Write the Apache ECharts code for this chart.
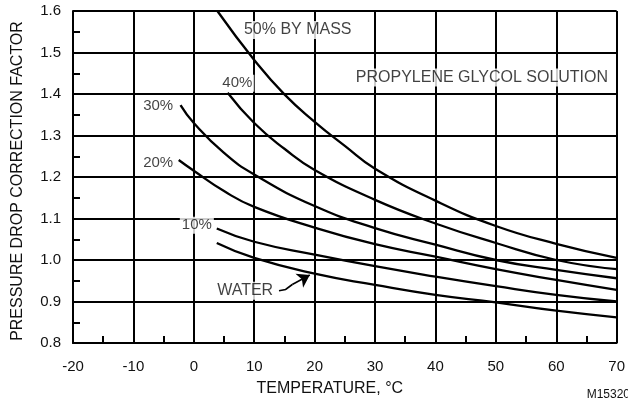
<!DOCTYPE html>
<html>
<head>
<meta charset="utf-8">
<script src="https://cdn.jsdelivr.net/npm/echarts@6/dist/echarts.min.js"></script>
<style>
  html, body { margin: 0; padding: 0; background: #fff; }
  #chart { width: 628px; height: 404px; }
</style>
</head>
<body>
<div id="chart"></div>
<script>
// temperature (°C) / correction factor
const waterX = [3.8, 10, 20, 30, 40, 50, 60, 70];
const waterY = [1.041, 1.005, 0.967, 0.940, 0.916, 0.898, 0.878, 0.862];
const pct10X = [3.8, 10, 20, 30, 40, 50, 60, 70];
const pct10Y = [1.076, 1.044, 1.013, 0.985, 0.960, 0.937, 0.916, 0.900];
const pct20X = [-2.5, 0, 5, 10, 20, 30, 40, 50, 60, 70];
const pct20Y = [1.241, 1.215, 1.166, 1.128, 1.078, 1.038, 1.008, 0.978, 0.952, 0.928];
const pct30X = [-2.2, 0, 5, 10, 20, 30, 40, 50, 60, 70];
const pct30Y = [1.373, 1.330, 1.258, 1.206, 1.130, 1.077, 1.037, 1.000, 0.976, 0.956];
const pct40X = [5.6, 10, 15, 20, 30, 40, 50, 60, 70];
const pct40Y = [1.403, 1.330, 1.268, 1.217, 1.145, 1.088, 1.041, 1.000, 0.978];
const pct50X = [3.9, 10, 15, 20, 25, 30, 40, 50, 60, 70];
const pct50Y = [1.600, 1.482, 1.399, 1.333, 1.275, 1.220, 1.143, 1.082, 1.039, 1.005];

const xTicks = [-20, -10, 0, 10, 20, 30, 40, 50, 60, 70];
const yTicks = [0.8, 0.9, 1.0, 1.1, 1.2, 1.3, 1.4, 1.5, 1.6];

// annotations (data coordinates of the text centres)
const noteText = ['50% BY MASS', '40%', '30%', '20%', '10%', 'WATER', 'PROPYLENE GLYCOL SOLUTION'];
const noteX = [17.2, 7.2, -5.9, -5.9, 0.5, 8.5, 47.7];
const noteY = [1.554, 1.426, 1.371, 1.233, 1.084, 0.926, 1.44];

// arrow from WATER label to the water curve
const arrowX = [14.1, 15.2, 16.3, 19.2];
const arrowY = [0.926, 0.929, 0.941, 0.964];

const FONT = '"Liberation Sans", Arial, sans-serif';
const pair = (xs, ys) => xs.map((x, i) => [x, ys[i]]);

function curve(name, xs, ys) {
    return {
        name: name,
        type: 'line',
        data: pair(xs, ys),
        smooth: 0.5,
        showSymbol: false,
        lineStyle: { color: '#000', width: 2.3 },
        z: 3,
    };
}

const axisCommon = {
    axisLine: { show: true, onZero: false, lineStyle: { color: '#000', width: 2 } },
    axisTick: { show: true, inside: true, length: 7, lineStyle: { color: '#000', width: 2 } },
    minorTick: { show: true, splitNumber: 2, length: 7, lineStyle: { color: '#000', width: 2 } },
    splitLine: { show: true, lineStyle: { color: '#000', width: 2 } },
};

const arrowTail = pair(arrowX, arrowY);
const arrowHead = arrowTail.slice(-2);

// the short "NN%" tags are set a touch smaller than the longer notes
const notes = pair(noteX, noteY).map((v, i) => ({
    value: v,
    label: { fontSize: noteText[i].length <= 3 ? 15 : 16 },
}));

const myChart = echarts.init(document.getElementById('chart'));
myChart.setOption({
    animation: false,
    backgroundColor: '#fff',
    grid: { left: 73, right: 9, top: 11, bottom: 61 },
    xAxis: Object.assign({}, axisCommon, {
        type: 'value',
        min: xTicks[0],
        max: xTicks[xTicks.length - 1],
        interval: 10,
        name: 'TEMPERATURE, °C',
        nameLocation: 'middle',
        nameGap: 38,
        nameTextStyle: { color: '#111', fontSize: 16, fontFamily: FONT, padding: [0, 30, 0, 0] },
        axisLabel: { color: '#111', fontSize: 15, fontFamily: FONT, margin: 16 },
    }),
    yAxis: Object.assign({}, axisCommon, {
        type: 'value',
        min: yTicks[0],
        max: yTicks[yTicks.length - 1],
        interval: 0.1,
        name: 'PRESSURE DROP CORRECTION FACTOR',
        nameLocation: 'middle',
        nameGap: 47,
        nameTextStyle: { color: '#111', fontSize: 16, fontFamily: FONT, padding: [0, 8, 0, 0] },
        axisLabel: {
            color: '#111', fontSize: 15, fontFamily: FONT, margin: 12,
            formatter: v => v.toFixed(1),
        },
    }),
    graphic: [{
        type: 'text',
        right: -2,
        bottom: 3,
        style: { text: 'M15320', fill: '#111', font: '12px ' + FONT },
    }],
    series: [
        curve('WATER', waterX, waterY),
        curve('10%', pct10X, pct10Y),
        curve('20%', pct20X, pct20Y),
        curve('30%', pct30X, pct30Y),
        curve('40%', pct40X, pct40Y),
        curve('50%', pct50X, pct50Y),
        {
            type: 'lines',
            coordinateSystem: 'cartesian2d',
            polyline: true,
            lineStyle: { color: '#000', width: 1.6, opacity: 1 },
            data: [{ coords: arrowTail.slice(0, -1) }],
            z: 4,
        },
        {
            type: 'lines',
            coordinateSystem: 'cartesian2d',
            symbol: ['none', 'arrow'],
            symbolSize: [7, 12],
            lineStyle: { color: '#000', width: 1.6, opacity: 1 },
            data: [{ coords: arrowHead }],
            z: 4,
        },
        {
            type: 'scatter',
            symbolSize: 0,
            data: notes,
            label: {
                show: true,
                position: 'inside',
                formatter: p => noteText[p.dataIndex],
                color: '#111',
                fontSize: 16,
                fontFamily: FONT,
                backgroundColor: '#fff',
                padding: [1, 2],
            },
            z: 5,
        },
    ],
});
</script>
</body>
</html>
